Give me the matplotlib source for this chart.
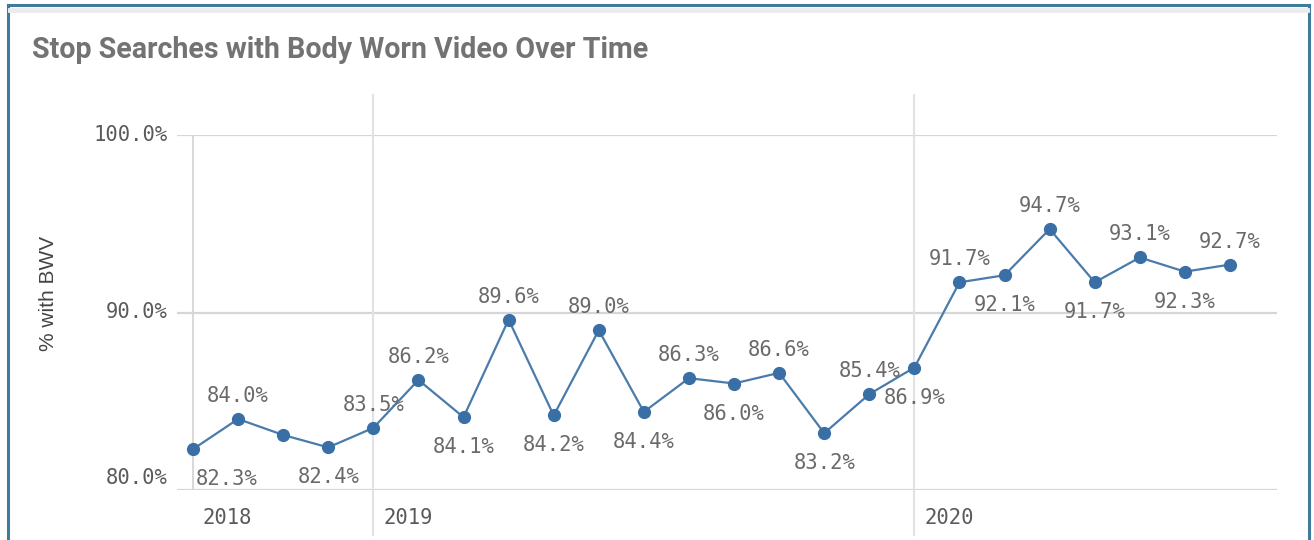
import matplotlib
matplotlib.use("Agg")
import matplotlib.pyplot as plt
from matplotlib.lines import Line2D
import matplotlib.transforms as mtransforms

# ---- data ----
months = ["Sep 2018", "Oct 2018", "Nov 2018", "Dec 2018",
          "Jan 2019", "Feb 2019", "Mar 2019", "Apr 2019", "May 2019", "Jun 2019",
          "Jul 2019", "Aug 2019", "Sep 2019", "Oct 2019", "Nov 2019", "Dec 2019",
          "Jan 2020", "Feb 2020", "Mar 2020", "Apr 2020", "May 2020", "Jun 2020",
          "Jul 2020", "Aug 2020"]
pct_bwv = [82.3, 84.0, 83.1, 82.4, 83.5, 86.2, 84.1, 89.6, 84.2, 89.0, 84.4, 86.3,
           86.0, 86.6, 83.2, 85.4, 86.9, 91.7, 92.1, 94.7, 91.7, 93.1, 92.3, 92.7]
label_side = ["below", "above", None, "below", "above", "above", "below", "above",
              "below", "above", "below", "above", "below", "above", "below", "above",
              "below", "above", "below", "above", "below", "above", "below", "above"]
y_ticks = [80, 90, 100]
y_tick_labels = ["80.0%", "90.0%", "100.0%"]
year_labels = ["2018", "2019", "2020"]
year_start_idx = [0, 4, 16]

title = "Stop Searches with Body Worn Video Over Time"
y_label = "% with BWV"

W, H = 1314, 540
fig = plt.figure(figsize=(W / 100, H / 100), dpi=100)
fig.patch.set_facecolor("white")

# axes placement (pixels)
ax_left, ax_right, ax_top, ax_bottom = 177, 1277, 135, 490
ax = fig.add_axes([ax_left / W, (H - ax_bottom) / H,
                   (ax_right - ax_left) / W, (ax_bottom - ax_top) / H])
x = list(range(len(pct_bwv)))
step = (1230 - 193) / (len(x) - 1)
ax.set_xlim((ax_left - 193) / step, (ax_right - 193) / step)
ax.set_ylim(80, 100)
for s in ax.spines.values():
    s.set_visible(False)
ax.set_xticks([])
ax.set_yticks([])
ax.patch.set_alpha(0)

grid_c = "#d6d6d6"
for yv in y_ticks:
    ax.axhline(yv, color=grid_c, lw=1.6, zorder=1)

# year separators
ax.plot([year_start_idx[0]] * 2, [80, 100], color=grid_c, lw=1.3, zorder=1)
ymin = (ax_bottom - 535) / (ax_bottom - ax_top)
ymax = (ax_bottom - 95) / (ax_bottom - ax_top)
for idx in year_start_idx[1:]:
    ax.axvline(idx, ymin=ymin, ymax=ymax, color="#e2e2e2", lw=1.5, clip_on=False, zorder=1)

# line + markers
line_c = "#4a7bab"
ax.plot(x, pct_bwv, color=line_c, lw=1.6, zorder=3, clip_on=False)
ax.plot(x, pct_bwv, 'o', color="#3a6fa5", ms=8.5, zorder=4, clip_on=False)

mono = "DejaVu Sans Mono"
fs = 14.8
lab_c = "#6a6a6a"
for xi, v, side in zip(x, pct_bwv, label_side):
    if side is None:
        continue
    off = 23 if side == "above" else -30
    dx = 34 if xi == 0 else 0  # first label kept inside the plot area
    ax.annotate(f"{v:.1f}%", (xi, v), xytext=(dx, off), textcoords="offset pixels",
                ha="center", va="center", fontsize=fs, family=mono,
                color=lab_c, zorder=5, annotation_clip=False)

# y tick labels
trans = mtransforms.blended_transform_factory(ax.transAxes, ax.transData)
for yv, lab in zip(y_ticks, y_tick_labels):
    dy = 12 if yv == y_ticks[0] else 0
    ax.annotate(lab, (0, yv), xycoords=trans, xytext=(-9, dy), textcoords="offset pixels",
                ha="right", va="center", fontsize=fs, family=mono, color="#5a5a5a",
                annotation_clip=False)

# year labels
for lab, idx in zip(year_labels, year_start_idx):
    ax.annotate(lab, (idx, 80), xytext=(10, -28), textcoords="offset pixels",
                ha="left", va="center", fontsize=fs, family=mono, color="#5a5a5a",
                annotation_clip=False)

# y axis label
fig.text(48 / W, 1 - 293 / H, y_label, rotation=90, ha="center", va="center",
         fontsize=15, family="Liberation Sans", color="#444444")

# title
fig.text(32 / W, 1 - 50 / H, title, ha="left", va="center", fontsize=20.6,
         family="Roboto", fontweight="bold", color="#737373")

# frame
fc = "#3f7c9c"
fig.add_artist(Line2D([8 / W, 8 / W], [0, 1 - 5 / H], transform=fig.transFigure,
                      color=fc, lw=2.2))
fig.add_artist(Line2D([1309 / W, 1309 / W], [0, 1 - 5 / H], transform=fig.transFigure,
                      color=fc, lw=2.2))
fig.add_artist(Line2D([8 / W, 1309 / W], [1 - 5 / H, 1 - 5 / H], transform=fig.transFigure,
                      color=fc, lw=2.2))
fig.add_artist(Line2D([10 / W, 1307 / W], [1 - 10 / H, 1 - 10 / H], transform=fig.transFigure,
                      color="#ececec", lw=3.5))

fig.savefig("out.png", dpi=100)
